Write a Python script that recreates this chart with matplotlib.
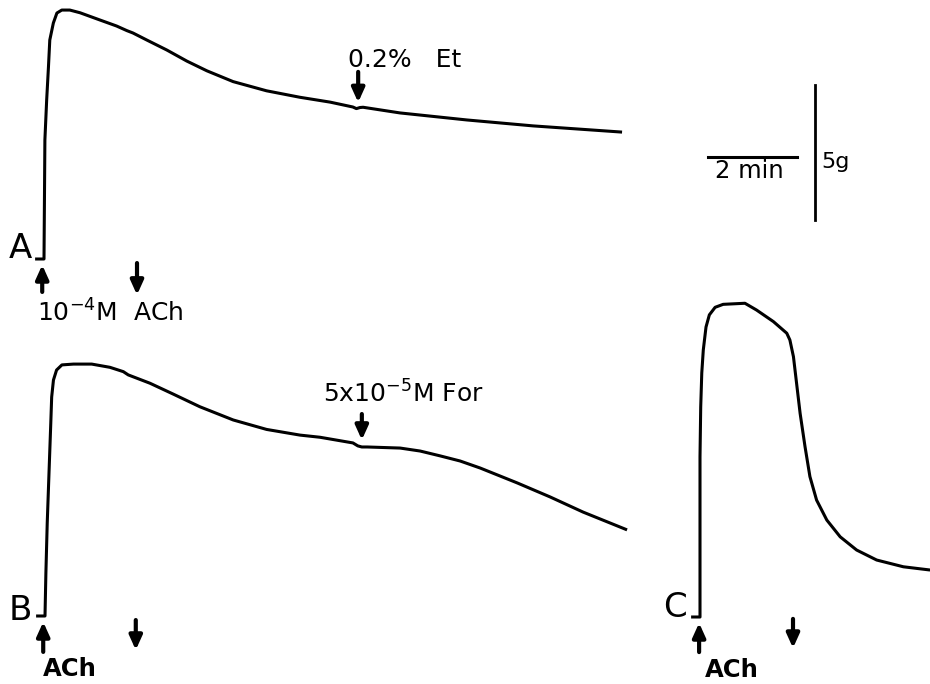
import matplotlib
matplotlib.use("Agg")
import matplotlib.pyplot as plt

plt.rcParams['font.family'] = ['DejaVu Sans']
plt.rcParams['mathtext.default'] = 'regular'

# ---------------- data (time in min, tension in g) ----------------
trace_a_t = [-0.20, 0.00, 0.01, 0.02, 0.06, 0.10, 0.13, 0.21, 0.29, 0.40, 0.58, 0.81, 1.26,
             1.63, 1.86, 2.00, 2.31, 2.76, 3.21, 3.66, 4.25, 5.00, 5.75, 6.43, 6.94, 7.02,
             7.10, 7.17, 8.00, 9.50, 10.99, 12.99]
trace_a_g = [0.00, 0.00, 2.19, 4.41, 5.89, 7.11, 8.11, 8.74, 9.11, 9.22, 9.22, 9.12, 8.85,
             8.63, 8.46, 8.37, 8.11, 7.74, 7.33, 6.97, 6.57, 6.23, 5.99, 5.81, 5.63, 5.57,
             5.61, 5.62, 5.41, 5.15, 4.93, 4.70]

trace_b_t = [-0.20, 0.00, 0.02, 0.05, 0.09, 0.13, 0.15, 0.19, 0.26, 0.38, 0.64, 1.05, 1.46,
             1.76, 1.87, 2.36, 2.88, 3.48, 4.23, 4.98, 5.73, 6.18, 6.92, 7.03, 7.12, 7.24,
             7.98, 8.43, 8.88, 9.33, 9.78, 10.61, 11.35, 12.09, 13.08]
trace_b_g = [0.00, 0.00, 1.59, 3.44, 5.30, 7.15, 8.11, 8.74, 9.11, 9.30, 9.33, 9.33, 9.21,
             9.05, 8.93, 8.62, 8.22, 7.75, 7.26, 6.91, 6.70, 6.62, 6.41, 6.30, 6.26, 6.26,
             6.22, 6.11, 5.93, 5.74, 5.48, 4.93, 4.41, 3.85, 3.19]

trace_c_t = [-0.20, 0.00, 0.00, 0.00, 0.00, 0.016, 0.04, 0.074, 0.135, 0.21, 0.34, 0.52,
             1.01, 1.27, 1.65, 1.95, 2.02, 2.10, 2.17, 2.25, 2.36, 2.47, 2.62, 2.85, 3.15,
             3.52, 3.97, 4.57, 5.17]
trace_c_g = [0.00, 0.00, 1.00, 3.48, 5.93, 7.78, 9.04, 9.89, 10.74, 11.19, 11.47, 11.58,
             11.62, 11.37, 10.94, 10.51, 10.26, 9.64, 8.66, 7.54, 6.31, 5.20, 4.33, 3.59,
             2.97, 2.48, 2.11, 1.86, 1.74]

# drug events (min)
events_a = {"ach_on": 0.0, "wash": 2.09, "drug": 7.06}
events_b = {"ach_on": 0.0, "wash": 2.04, "drug": 7.12}
events_c = {"ach_on": 0.0, "wash": 2.09}

label_a_drug = "0.2%   Et"
label_b_drug = "5x10$^{-5}$M For"
label_a_ach = "10$^{-4}$M  ACh"
label_ach = "ACh"

scale_time_min = 2
scale_force_g = 5

# ---------------- layout ----------------
W, H = 930, 684
PXM = 44.5   # pixels per minute
PXG = 27.0   # pixels per gram

fig = plt.figure(figsize=(W / 100, H / 100), dpi=100)
fig.patch.set_facecolor('white')


def make_panel(ox, oy, tlim, glim):
    x0 = ox + tlim[0] * PXM
    x1 = ox + tlim[1] * PXM
    y_top = oy - glim[1] * PXG
    y_bot = oy - glim[0] * PXG
    ax = fig.add_axes([x0 / W, 1 - y_bot / H, (x1 - x0) / W, (y_bot - y_top) / H])
    ax.set_xlim(*tlim)
    ax.set_ylim(*glim)
    ax.set_axis_off()
    return ax


LW = 2.2
ARROW = dict(arrowstyle='-|>,head_length=0.42,head_width=0.19', lw=3.0, color='black',
             shrinkA=0, shrinkB=0, mutation_scale=20)


def arrow(ax, t, g_tail, g_tip):
    ax.annotate('', xy=(t, g_tip), xytext=(t, g_tail), arrowprops=ARROW,
                annotation_clip=False)


def trace(ax, t, g):
    ax.plot(t, g, color='black', lw=LW, clip_on=False,
            solid_joinstyle='round', solid_capstyle='butt')


# Panel A
axA = make_panel(44, 259, (-1.0, 14.0), (-3.0, 10.0))
trace(axA, trace_a_t, trace_a_g)
axA.text(-0.27, 0.04, "A", fontsize=24.5, ha='right', va='baseline')
arrow(axA, events_a["ach_on"] - 0.04, -1.22, -0.22)
arrow(axA, events_a["wash"], -0.15, -1.33)
arrow(axA, events_a["drug"], 6.93, 5.80)
axA.text(-0.16, -2.33, label_a_ach, fontsize=18, ha='left', va='baseline')
axA.text(6.83, 7.11, label_a_drug, fontsize=18, ha='left', va='baseline')

# Panel B
axB = make_panel(45, 616, (-1.0, 14.0), (-3.0, 10.0))
trace(axB, trace_b_t, trace_b_g)
axB.text(-0.29, -0.15, "B", fontsize=24.5, ha='right', va='baseline')
arrow(axB, events_b["ach_on"] - 0.04, -1.33, -0.22)
arrow(axB, events_b["wash"], -0.15, -1.26)
arrow(axB, events_b["drug"], 7.48, 6.52)
axB.text(-0.04, -2.22, label_ach, fontsize=17.5, fontweight='bold', ha='left', va='baseline')
axB.text(6.25, 7.89, label_b_drug, fontsize=18, ha='left', va='baseline')

# Panel C
axC = make_panel(700, 617, (-1.0, 5.3), (-3.0, 12.5))
trace(axC, trace_c_t, trace_c_g)
axC.text(-0.29, 0.0, "C", fontsize=24.5, ha='right', va='baseline')
arrow(axC, events_c["ach_on"] - 0.02, -1.30, -0.22)
arrow(axC, events_c["wash"], -0.07, -1.15)
axC.text(0.11, -2.22, label_ach, fontsize=17.5, fontweight='bold', ha='left', va='baseline')

# Scale bar
axS = make_panel(708, 220, (-0.5, 3.5), (-0.5, 5.5))
axS.plot([0, scale_time_min], [2.33, 2.33], color='black', lw=2.2, clip_on=False)
axS.plot([2.40, 2.40], [0, scale_force_g], color='black', lw=2.0, clip_on=False)
axS.text(0.16, 1.56, f"{scale_time_min} min", fontsize=17.5, ha='left', va='baseline')
axS.text(2.54, 1.93, f"{scale_force_g}g", fontsize=16, ha='left', va='baseline')

fig.savefig("out.png", dpi=100, facecolor='white')
